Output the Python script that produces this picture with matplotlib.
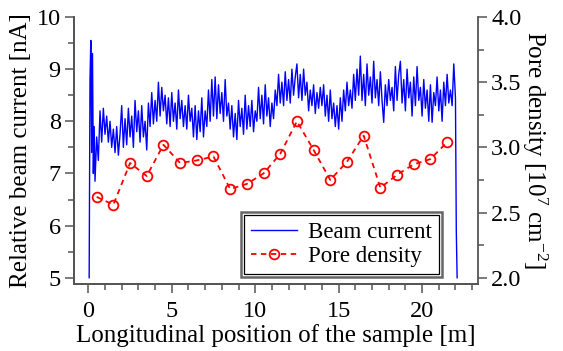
import numpy as np
import matplotlib
matplotlib.use("Agg")
from matplotlib import pyplot as plt
from matplotlib.patches import Rectangle

plt.rcParams['font.family'] = ['Liberation Serif', 'DejaVu Serif']
plt.rcParams['mathtext.fontset'] = 'custom'
plt.rcParams['mathtext.rm'] = 'Liberation Serif'
plt.rcParams['mathtext.it'] = 'Liberation Serif:italic'

# beam current: spike at the start, then samples every 0.1 m from 0.4 m to 22.0 m, then the drop
beam_start_x = [0.05, 0.10, 0.15, 0.20, 0.25, 0.30, 0.35]
beam_start = [5.0, 8.8, 9.55, 7.4, 9.3, 7.0, 7.9]
beam = [
    6.85, 7.7, 7.25, 8.2, 7.6, 8.25,
    7.75, 8.1, 7.6, 8.0, 7.5, 7.85, 7.4, 7.9, 7.35, 7.75,
    8.3, 7.5, 8.05, 7.55, 8.25, 7.7, 8.1, 7.5, 8.4, 7.8,
    8.2, 7.6, 8.3, 7.7, 8.0, 7.45, 8.35, 7.9, 8.55, 7.95,
    8.4, 8.0, 8.75, 8.1, 8.65, 8.2, 8.5, 7.95, 8.45, 7.9,
    8.55, 8.0, 8.35, 7.85, 8.6, 8.05, 8.4, 7.9, 8.3, 7.85,
    8.5, 8.0, 8.25, 7.7, 8.3, 7.65, 8.2, 7.8, 8.45, 7.7,
    8.2, 7.9, 8.6, 8.0, 8.8, 8.1, 8.85, 8.05, 8.7, 8.15,
    8.55, 8.0, 8.8, 8.1, 8.35, 7.85, 8.3, 7.7, 8.15, 7.65,
    8.4, 7.9, 8.25, 7.75, 8.5, 7.85, 8.3, 7.9, 8.4, 7.8,
    8.2, 8.0, 8.65, 8.05, 8.5, 7.95, 8.7, 8.1, 8.45, 7.9,
    8.35, 8.05, 8.6, 8.3, 8.9, 8.35, 8.75, 8.3, 8.95, 8.4,
    8.8, 8.35, 9.0, 8.5, 8.85, 9.1, 8.45, 8.9, 8.4, 9.0,
    8.5, 8.75, 8.2, 8.6, 8.3, 8.7, 8.15, 8.55, 8.25, 8.65,
    8.3, 8.7, 8.1, 8.5, 8.0, 8.6, 8.05, 8.35, 7.9, 8.3,
    7.85, 8.45, 8.0, 8.6, 8.2, 8.75, 8.3, 8.6, 8.25, 8.9,
    8.4, 9.0, 8.5, 9.25, 8.4, 8.9, 8.3, 9.1, 8.5, 8.85,
    8.35, 9.15, 8.45, 8.8, 8.3, 8.95, 8.4, 7.98, 8.7, 8.3,
    8.8, 8.4, 8.65, 8.2, 9.05, 8.4, 8.9, 9.15, 8.35, 8.8,
    8.2, 9.0, 8.45, 8.75, 8.1, 8.85, 8.3, 9.05, 8.4, 8.65,
    8.1, 8.8, 8.25, 8.6, 8.0, 8.7, 7.98, 8.55, 8.3, 8.85,
    8.2, 8.6, 8.0, 8.75, 8.3, 8.9, 8.35, 8.6, 8.3, 9.1,
    8.45,
]
beam_end_x = [22.05, 22.10]
beam_end = [5.9, 5.0]

# pore density, one point per metre
pore_x = [0.5, 1.5, 2.5, 3.5, 4.5, 5.5, 6.5, 7.5, 8.5, 9.5, 10.5,
          11.5, 12.5, 13.5, 14.5, 15.5, 16.5, 17.5, 18.5, 19.5, 20.5, 21.5]
pore = [2.62, 2.56, 2.88, 2.78, 3.02, 2.88, 2.90, 2.93, 2.68, 2.72, 2.80,
        2.95, 3.20, 2.98, 2.75, 2.89, 3.09, 2.69, 2.79, 2.87, 2.91, 3.04]

beam_x = list(beam_start_x) + list(0.4 + 0.1 * np.arange(len(beam))) + beam_end_x
beam_y = beam_start + beam + beam_end

fig = plt.figure(figsize=(5.63, 3.51), dpi=100)
ax = fig.add_axes([0.1314, 0.1909, 0.7176, 0.7607])
ax2 = ax.twinx()

l1, = ax.plot(beam_x, beam_y, color='#0000ff', lw=1.0, label='Beam current')
l2, = ax2.plot(pore_x, pore, color='#ff0000', lw=1.3, ls=(0, (3, 2.5)),
               marker='o', ms=7, mfc='none', mec='#ff0000', mew=1.3,
               label='Pore density')

ax.set_xlim(-0.86, 23.35)
ax.set_ylim(4.88, 10)
ax2.set_ylim(1.952, 4.0)

ax.set_xticks([0, 5, 10, 15, 20])
ax.set_xticks(range(0, 24), minor=True)
ax.set_yticks([5, 6, 7, 8, 9, 10])
ax.set_yticks(np.arange(5, 10.01, 0.5), minor=True)
ax2.set_yticks([2.0, 2.5, 3.0, 3.5, 4.0])
ax2.set_yticklabels(['2.0', '2.5', '3.0', '3.5', '4.0'])
ax2.set_yticks(np.arange(2.0, 4.01, 0.25), minor=True)

spc = '#555555'
for a in (ax, ax2):
    for s in a.spines.values():
        s.set_color(spc)
        s.set_linewidth(1.3)
    a.spines['top'].set_visible(False)
    a.tick_params(which='major', length=6.5, width=1.1, color=spc, labelsize=17.5, pad=3)
    a.tick_params(which='minor', length=4, width=1.1, color=spc)
ax.spines['right'].set_visible(False)
ax.tick_params(axis='x', which='major', pad=6)

ax.set_xlabel('Longitudinal position of the sample [m]', fontsize=18, labelpad=1)
ax.set_ylabel('Relative beam current [nA]', fontsize=18, labelpad=3)
ax2.set_ylabel('Pore density [10$^{7}$ cm$^{-2}$]', fontsize=18, rotation=270, labelpad=20)

leg = ax2.legend([l1, l2], ['Beam current', 'Pore density'], loc='lower right',
                 bbox_to_anchor=(0.9035, 0.0375), fontsize=16.5, frameon=True,
                 fancybox=False, edgecolor='black', framealpha=1,
                 handlelength=2.0, handletextpad=0.5, labelspacing=0.15,
                 borderpad=0.3, borderaxespad=0)
leg.get_frame().set_linewidth(0.9)

# outer grey frame of the legend
fig.canvas.draw()
bb = leg.get_frame().get_window_extent()
outer = Rectangle((bb.x0 - 3, bb.y0 - 3), bb.width + 6, bb.height + 6,
                  transform=None, fill=False, edgecolor='#666666', lw=1.8, zorder=10)
fig.patches.append(outer)

fig.savefig('out.png', dpi=100)
